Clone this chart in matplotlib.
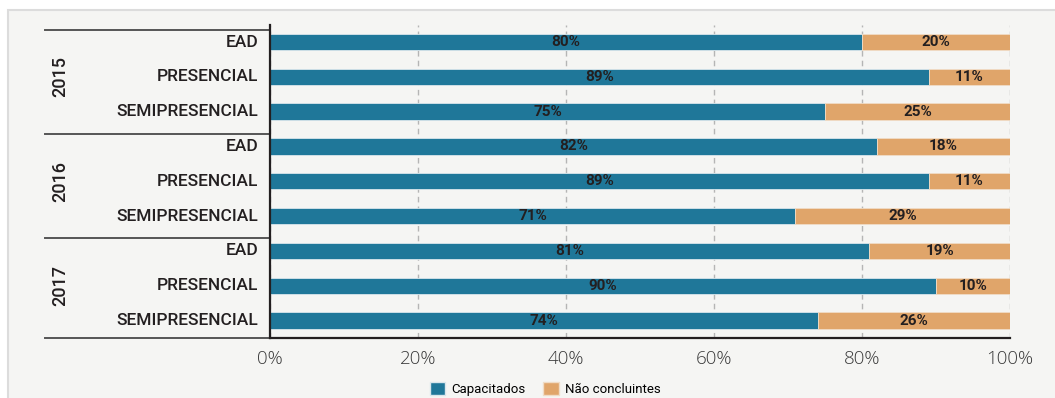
import numpy as np
import matplotlib.pyplot as plt
from matplotlib.patches import Rectangle, Patch

years = ['2015', '2016', '2017']
modalidades = ['EAD', 'PRESENCIAL', 'SEMIPRESENCIAL']
capacitados = [80, 89, 75, 82, 89, 71, 81, 90, 74]
nao_concluintes = [20, 11, 25, 18, 11, 29, 19, 10, 26]
xticks = [0, 20, 40, 60, 80, 100]

BLUE = '#1f7799'
ORANGE = '#e0a56a'
BG = '#f5f5f3'
TXT = '#231f20'
NARROW = ['Roboto', 'DejaVu Sans']

fig = plt.figure(figsize=(10.55, 3.98), dpi=100)
fig.patch.set_facecolor('white')
# panel background with light border
fig.patches.append(Rectangle((8 / 1055, -0.05), 1.1, (398 - 10) / 398 + 0.05,
                             transform=fig.transFigure, facecolor=BG,
                             edgecolor='#dcdcdc', lw=1.5, zorder=-10))

ax = fig.add_axes([270 / 1055, 1 - 338 / 398, 740 / 1055, (338 - 24.6) / 398])
ax.set_facecolor(BG)

y = np.arange(len(capacitados))
h = 0.47
ax.barh(y, capacitados, height=h, color=BLUE, edgecolor='#d9e6ec', lw=0.6, zorder=3)
ax.barh(y, nao_concluintes, left=capacitados, height=h, color=ORANGE,
        edgecolor='#f0dcc6', lw=0.6, zorder=3)

for yi, c, n in zip(y, capacitados, nao_concluintes):
    ax.text(c / 2, yi, f'{c}%', ha='center', va='center', fontsize=11,
            fontweight='bold', family=NARROW, color=TXT, zorder=4)
    ax.text(c + n / 2, yi, f'{n}%', ha='center', va='center', fontsize=11,
            fontweight='bold', family=NARROW, color=TXT, zorder=4)

ax.set_ylim(8.5, -0.5)
ax.set_xlim(0, 100)
ax.set_xticks(xticks)
ax.set_xticklabels([f'{t}%' for t in xticks], fontsize=13.5, color='#3a3a3a',
                   family='Open Sans', fontweight='light')
ax.tick_params(axis='x', length=0, pad=9)
ax.set_yticks([])
ax.grid(axis='x', ls=(0, (4, 3)), color='#b5b5b5', lw=1, zorder=1)
for s in ['top', 'right']:
    ax.spines[s].set_visible(False)
ax.spines['left'].set_color(TXT)
ax.spines['left'].set_linewidth(1.6)
ax.spines['bottom'].set_color(TXT)
ax.spines['bottom'].set_linewidth(1.6)
ax.spines['left'].set_zorder(5)

# category labels
for i, yi in enumerate(y):
    ax.text(-0.016, yi, modalidades[i % 3], transform=ax.get_yaxis_transform(),
            ha='right', va='center', fontsize=12.5, fontweight='medium',
            family=NARROW, color=TXT)

# year labels and separator lines
for g, yr in enumerate(years):
    ax.text(-0.284, 3 * g + 1, yr, transform=ax.get_yaxis_transform(),
            ha='center', va='center', rotation=90, fontsize=13,
            fontweight='medium', family=NARROW, color=TXT)
for yl in [-0.34, 2.64, 5.64, 8.5]:
    ax.plot([-0.304, 0], [yl, yl], transform=ax.get_yaxis_transform(),
            color='#555555', lw=1.4, clip_on=False, zorder=5)

handles = [Patch(facecolor=BLUE, edgecolor='#d9e6ec', label='Capacitados'),
           Patch(facecolor=ORANGE, edgecolor='#f0dcc6', label='Não concluintes')]
fig.legend(handles=handles, loc='center', bbox_to_anchor=(545 / 1055, 1 - 389 / 398),
           ncol=2, frameon=False, handlelength=1.2, handleheight=1.2,
           columnspacing=1.4, handletextpad=0.4,
           prop={'size': 9.5, 'family': NARROW})

fig.savefig('out.png', dpi=100, facecolor=fig.get_facecolor())
